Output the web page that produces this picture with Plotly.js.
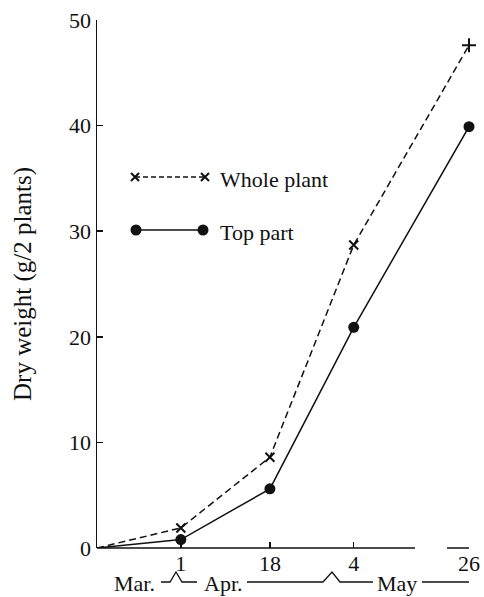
<!DOCTYPE html>
<html>
<head>
<meta charset="utf-8">
<script src="https://cdn.plot.ly/plotly-3.0.1.min.js"></script>
<style>html,body{margin:0;padding:0;background:#fff;}#chart{width:484px;height:597px;}</style>
</head>
<body>
<div id="chart"></div>
<script>
// ---- data ----
const dates = ['2000-03-16', '2000-04-01', '2000-04-18', '2000-05-04', '2000-05-26'];
const wholePlant = [0, 1.9, 8.6, 28.7, 47.6];
const topPart = [0, 0.8, 5.6, 20.9, 39.9];
const tickDates = ['2000-04-01', '2000-04-18', '2000-05-04', '2000-05-26'];
const tickLabels = ['1', '18', '4', '26'];
const yTicks = [0, 10, 20, 30, 40, 50];
const seriesNames = ['Whole plant', 'Top part'];
const monthLabels = ['Mar.', 'Apr.', 'May'];
const yTitle = 'Dry weight (g/2 plants)';

// ---- layout helpers (pixel -> paper) ----
const L = 97, R = 469, T = 20, B = 548;
const W = R - L, H = B - T;
const px = x => (x - L) / W;
const py = y => (B - y) / H;
const INK = '#111';
const FONT = 'Liberation Serif, Times New Roman, serif';

const wholeSymbols = ['x-thin', 'x-thin', 'x-thin', 'x-thin', 'cross-thin'];
const markerSizeWhole = [0, 9, 9, 9, 10];
const markerSizeTop = [0, 11, 11, 11, 11];

const traces = [
  {
    x: dates, y: wholePlant, name: seriesNames[0], type: 'scatter', mode: 'lines+markers',
    line: {color: INK, width: 1.5, dash: '7px,4px'},
    marker: {symbol: wholeSymbols, size: markerSizeWhole, color: INK, opacity: 1, line: {color: INK, width: 2}},
    cliponaxis: false, hoverinfo: 'skip'
  },
  {
    x: dates, y: topPart, name: seriesNames[1], type: 'scatter', mode: 'lines+markers',
    line: {color: INK, width: 1.5},
    marker: {symbol: 'circle', size: markerSizeTop, color: INK, opacity: 1, line: {color: INK, width: 0}},
    cliponaxis: false, hoverinfo: 'skip'
  },
  // legend keys (drawn on a pixel-ranged overlay axis)
  {
    x: [135, 205], y: [177, 177], xaxis: 'x2', yaxis: 'y2', mode: 'lines+markers',
    line: {color: INK, width: 1.5, dash: '5px,3px'},
    marker: {symbol: 'x-thin', size: 8, color: INK, opacity: 1, line: {color: INK, width: 2}},
    cliponaxis: false, hoverinfo: 'skip'
  },
  {
    x: [136, 203], y: [230, 230], xaxis: 'x2', yaxis: 'y2', mode: 'lines+markers',
    line: {color: INK, width: 1.5},
    marker: {symbol: 'circle', size: 11, color: INK, opacity: 1},
    cliponaxis: false, hoverinfo: 'skip'
  }
];

function path(pts) {
  return pts.map((p, i) => (i ? 'L' : 'M') + px(p[0]) + ',' + py(p[1])).join(' ');
}
const bl = 582, pk = 572;
const shapes = [
  // broken x axis
  {type: 'line', xref: 'paper', yref: 'paper', x0: 0, x1: px(415), y0: 0, y1: 0, line: {color: INK, width: 1.5}},
  {type: 'line', xref: 'paper', yref: 'paper', x0: px(447), x1: 1, y0: 0, y1: 0, line: {color: INK, width: 1.5}},
  // month bracket lines
  {type: 'path', xref: 'paper', yref: 'paper', path: path([[161, bl], [170, bl], [176, pk], [182, bl], [197, bl]]), line: {color: INK, width: 1.3}},
  {type: 'path', xref: 'paper', yref: 'paper', path: path([[247, bl], [323, bl], [332, pk], [340, bl], [373, bl]]), line: {color: INK, width: 1.3}},
  {type: 'path', xref: 'paper', yref: 'paper', path: path([[422, bl], [469, bl]]), line: {color: INK, width: 1.3}}
];

const annotations = [
  {text: monthLabels[0], xref: 'paper', yref: 'paper', x: px(134), y: py(583), showarrow: false, xanchor: 'center', yanchor: 'middle', font: {size: 22}},
  {text: monthLabels[1], xref: 'paper', yref: 'paper', x: px(223), y: py(583), showarrow: false, xanchor: 'center', yanchor: 'middle', font: {size: 22}},
  {text: monthLabels[2], xref: 'paper', yref: 'paper', x: px(397), y: py(583), showarrow: false, xanchor: 'center', yanchor: 'middle', font: {size: 22}},
  {text: seriesNames[0], xref: 'paper', yref: 'paper', x: px(218), y: py(179), showarrow: false, xanchor: 'left', yanchor: 'middle', font: {size: 22}},
  {text: seriesNames[1], xref: 'paper', yref: 'paper', x: px(218), y: py(232), showarrow: false, xanchor: 'left', yanchor: 'middle', font: {size: 22}}
];

const layout = {
  width: 484, height: 597,
  margin: {l: L, r: 484 - R, t: T, b: 597 - B, pad: 0},
  paper_bgcolor: '#fff', plot_bgcolor: '#fff',
  font: {family: FONT, size: 22, color: INK},
  showlegend: false,
  xaxis: {
    type: 'date', range: [dates[0], dates[dates.length - 1]],
    tickmode: 'array', tickvals: tickDates, ticktext: tickLabels,
    ticks: 'inside', ticklen: 6, tickwidth: 1.5, tickcolor: INK,
    showline: false, showgrid: false, zeroline: false, fixedrange: true,
    tickfont: {size: 22}
  },
  yaxis: {
    range: [0, 50], tickmode: 'array', tickvals: yTicks,
    ticks: 'inside', ticklen: 6, tickwidth: 1.5, tickcolor: INK,
    showline: true, linewidth: 1.5, linecolor: INK,
    showgrid: false, zeroline: false, fixedrange: true,
    tickfont: {size: 22},
    title: {text: yTitle, font: {size: 25}, standoff: 30}
  },
  xaxis2: {overlaying: 'x', range: [L, R], visible: false, fixedrange: true},
  yaxis2: {overlaying: 'y', range: [B, T], visible: false, fixedrange: true},
  shapes: shapes,
  annotations: annotations
};

Plotly.newPlot('chart', traces, layout, {displayModeBar: false, staticPlot: true});
</script>
</body>
</html>
